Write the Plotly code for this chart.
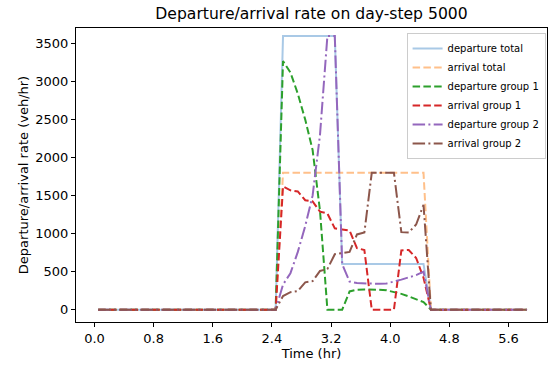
import plotly.graph_objects as go

# Time (hr) sample points
time_hr = [0.05, 2.45, 2.55, 2.65, 2.75, 2.85, 2.95, 3.05, 3.15, 3.25, 3.35, 3.45,
           3.55, 3.65, 3.75, 3.85, 3.95, 4.05, 4.15, 4.25, 4.35, 4.45, 4.55, 5.85]

departure_total = [0, 0, 3600, 3600, 3600, 3600, 3600, 3600, 3600, 3600, 600, 600,
                   600, 600, 600, 600, 600, 600, 600, 600, 600, 600, 0, 0]
arrival_total = [0, 0, 1800, 1800, 1800, 1800, 1800, 1800, 1800, 1800, 1800, 1800,
                 1800, 1800, 1800, 1800, 1800, 1800, 1800, 1800, 1800, 1800, 0, 0]
departure_group1 = [0, 0, 3270, 3120, 2840, 2500, 2100, 1300, 0, 0, 0, 240,
                    262, 265, 265, 262, 255, 232, 208, 175, 140, 100, 0, 0]
arrival_group1 = [0, 0, 1620, 1570, 1555, 1440, 1425, 1290, 1265, 1070, 1055, 1040,
                  810, 785, 0, 0, 0, 0, 780, 785, 680, 420, 0, 0]
departure_group2 = [0, 0, 330, 480, 760, 1100, 1500, 2300, 3600, 3600, 600, 370,
                    350, 345, 340, 340, 345, 365, 395, 425, 455, 500, 0, 0]
arrival_group2 = [0, 0, 180, 230, 245, 360, 375, 510, 535, 730, 745, 760,
                  990, 1015, 1800, 1800, 1800, 1800, 1020, 1015, 1120, 1380, 0, 0]

x_ticks = [0.0, 0.8, 1.6, 2.4, 3.2, 4.0, 4.8, 5.6]
y_ticks = [0, 500, 1000, 1500, 2000, 2500, 3000, 3500]

DASH = "7.5px,3.3px"
DASHDOT = "12.5px,3.3px,2px,3.3px"

series = [
    ("departure total", departure_total, "#a9c9e6", "solid"),
    ("arrival total", arrival_total, "#ffc08a", DASH),
    ("departure group 1", departure_group1, "#2ca02c", DASH),
    ("arrival group 1", arrival_group1, "#d62728", DASH),
    ("departure group 2", departure_group2, "#9467bd", DASHDOT),
    ("arrival group 2", arrival_group2, "#8c564b", DASHDOT),
]

fig = go.Figure()
for name, ys, color, dash in series:
    fig.add_trace(go.Scatter(
        x=time_hr, y=ys, mode="lines", name=name,
        line=dict(color=color, width=2, dash=dash),
    ))

FONT = "DejaVu Sans"
fig.update_layout(
    width=552, height=365,
    margin=dict(l=76, r=5, t=28, b=43),
    paper_bgcolor="white", plot_bgcolor="white",
    font=dict(family=FONT, size=13, color="black"),
    title=dict(text="Departure/arrival rate on day-step 5000",
               x=0.5, xref="paper", xanchor="center",
               y=1 - 14 / 365, yref="container", yanchor="middle",
               font=dict(size=15.6, color="black", family=FONT)),
    showlegend=True,
    legend=dict(x=0.997, y=0.983, xanchor="right", yanchor="top",
                bgcolor="rgba(255,255,255,0.8)", bordercolor="#cccccc", borderwidth=1,
                font=dict(size=10, family=FONT, color="black"),
                itemwidth=30, tracegroupgap=0),
)
fig.update_xaxes(
    range=[-0.25, 6.12], tickvals=x_ticks, ticktext=[f"{v:.1f}" for v in x_ticks],
    showgrid=False, zeroline=False, showline=True, linecolor="black", linewidth=1,
    mirror=True, ticks="outside", ticklen=4, tickcolor="black",
    tickfont=dict(size=13),
    title=dict(text="Time (hr)", standoff=4, font=dict(size=13)),
)
fig.update_yaxes(
    range=[-162, 3705], tickvals=y_ticks,
    showgrid=False, zeroline=False, showline=True, linecolor="black", linewidth=1,
    mirror=True, ticks="outside", ticklen=4, tickcolor="black",
    tickfont=dict(size=13),
    title=dict(text="Departure/arrival rate (veh/hr)", standoff=3, font=dict(size=13)),
)

fig.write_html("out.html")
